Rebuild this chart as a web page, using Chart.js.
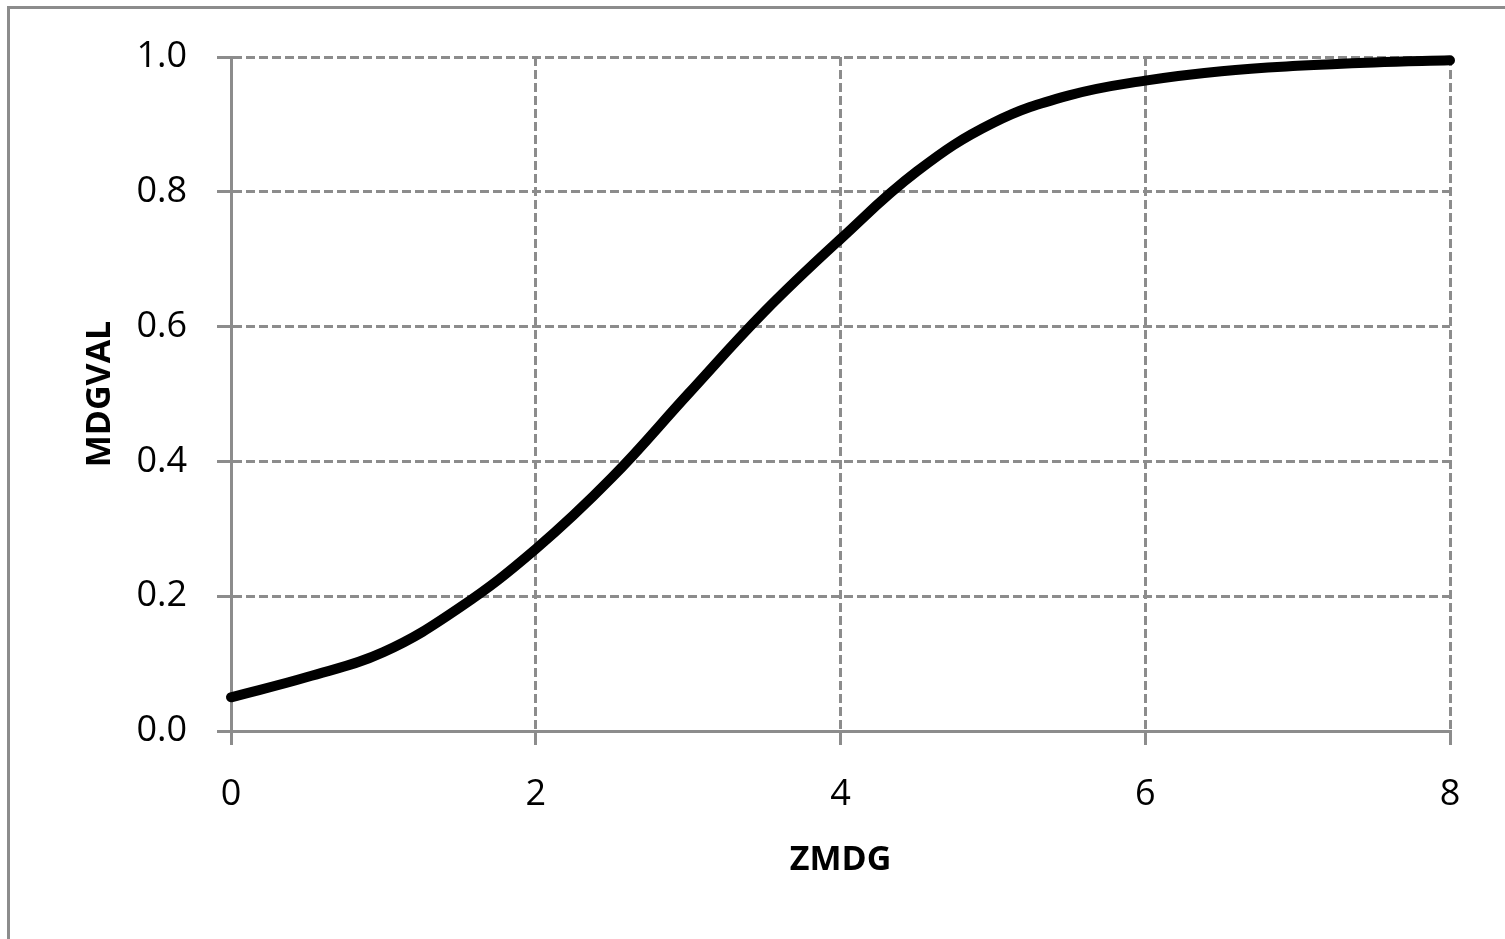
<!DOCTYPE html>
<html>
<head>
<meta charset="utf-8">
<script src="https://cdn.jsdelivr.net/npm/chart.js@4"></script>
<style>
  html, body { margin: 0; padding: 0; background: #fff; }
  #wrap { width: 1505px; height: 939px; position: relative; }
</style>
</head>
<body>
<div id="wrap"><canvas id="chart"></canvas></div>
<script>
// values
const zmdg = [0, 0.5, 1, 1.5, 2, 2.5, 3, 3.5, 4, 4.5, 5, 5.5, 6, 6.5, 7, 7.5, 8];
const mdgval = [0.050, 0.080, 0.117, 0.183, 0.270, 0.376, 0.500, 0.622, 0.730, 0.830, 0.902, 0.943, 0.965, 0.979, 0.987, 0.992, 0.995];
const xTicks = [0, 2, 4, 6, 8];
const yTicks = [0.0, 0.2, 0.4, 0.6, 0.8, 1.0];

const gridColor = '#8c8c8c';
const fontFamily = "'Open Sans', 'Liberation Sans', sans-serif";

// grey frame round the chart (only left and top edges are inside the picture)
const framePlugin = {
  id: 'frame',
  beforeDraw(chart) {
    const ctx = chart.ctx;
    ctx.save();
    ctx.fillStyle = '#fff';
    ctx.fillRect(0, 0, chart.width, chart.height);
    ctx.strokeStyle = gridColor;
    ctx.lineWidth = 3;
    ctx.beginPath();
    ctx.moveTo(8.5, chart.height);
    ctx.lineTo(8.5, 7.5);
    ctx.lineTo(chart.width, 7.5);
    ctx.stroke();
    ctx.restore();
  }
};

const points = zmdg.map((x, i) => ({ x: x, y: mdgval[i] }));

new Chart(document.getElementById('chart'), {
  type: 'line',
  data: {
    datasets: [
      {
        label: 'MDGVAL',
        data: points,
        borderColor: '#000',
        borderWidth: 10,
        borderCapStyle: 'round',
        borderJoinStyle: 'round',
        pointRadius: 0,
        tension: 0.4,
        clip: false,
      },
    ],
  },
  options: {
    responsive: true,
    maintainAspectRatio: false,
    animation: false,
    devicePixelRatio: 1,
    layout: { padding: { top: 57, right: 55, left: 0, bottom: 0 } },
    plugins: {
      legend: { display: false },
      tooltip: { enabled: false },
    },
    scales: {
      x: {
        type: 'linear',
        min: 0,
        max: 8,
        afterBuildTicks: (scale) => {
          scale.ticks = xTicks.map((v) => ({ value: v }));
        },
        afterFit: (scale) => {
          scale.height = 939 - 731;
        },
        grid: {
          color: gridColor,
          lineWidth: 3,
          tickLength: 14,
          tickWidth: 3,
          tickBorderDash: [],
        },
        border: { display: true, color: gridColor, width: 3, dash: [9, 4] },
        ticks: {
          color: '#000',
          font: { family: fontFamily, size: 36 },
          padding: 28,
          maxRotation: 0,
        },
        title: {
          display: true,
          text: 'ZMDG',
          color: '#000',
          font: { family: fontFamily, size: 34, weight: 'bold' },
          padding: { top: 0, bottom: 58 },
        },
      },
      y: {
        type: 'linear',
        min: 0,
        max: 1,
        afterBuildTicks: (scale) => {
          scale.ticks = yTicks.map((v) => ({ value: v }));
        },
        afterFit: (scale) => {
          scale.width = 231;
        },
        grid: {
          color: gridColor,
          lineWidth: 3,
          tickLength: 14,
          tickWidth: 3,
          tickBorderDash: [],
        },
        border: { display: true, color: gridColor, width: 3, dash: [9, 4] },
        ticks: {
          color: '#000',
          font: { family: fontFamily, size: 36 },
          padding: 30,
          callback: (v) => Number(v).toFixed(1),
        },
        title: {
          display: true,
          text: 'MDGVAL',
          color: '#000',
          font: { family: fontFamily, size: 34, weight: 'bold' },
          padding: { top: 80, bottom: 0 },
        },
      },
    },
  },
  plugins: [framePlugin],
});
</script>
</body>
</html>
